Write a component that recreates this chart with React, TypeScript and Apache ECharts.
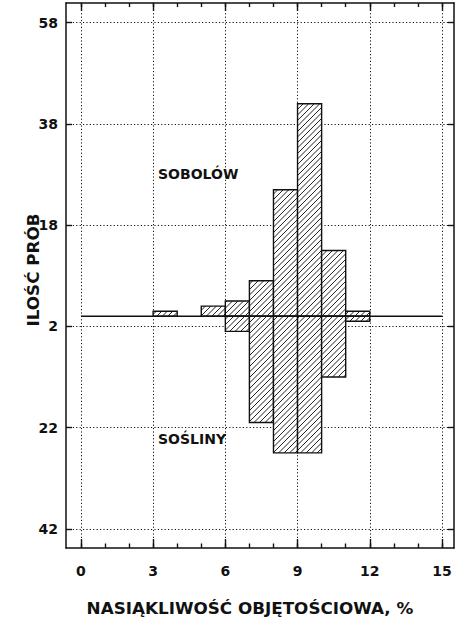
import React, { useEffect, useRef } from "react";
import * as echarts from "echarts";

// Histogram bins: left edge of each 1-unit class and the number of samples in it
const BIN_WIDTH = 1;
const SOBOLOW_BINS = [3, 5, 6, 7, 8, 9, 10, 11];
const SOBOLOW_COUNTS = [1, 2, 3, 7, 25, 42, 13, 1];
const SOSLINY_BINS = [6, 7, 8, 9, 10, 11];
const SOSLINY_COUNTS = [3, 21, 27, 27, 12, 1];

// Axis ticks
const X_MAJOR = [0, 3, 6, 9, 12, 15];
const X_MINOR = [0, 1, 2, 3, 4, 5, 6, 7, 8, 9, 10, 11, 12, 13, 14, 15];
const Y_TICKS = [-42, -22, -2, 18, 38, 58];
const BASELINE_X = [0, 15];

const X_MIN = -0.62;
const X_MAX = 15.5;
const Y_MIN = -45.8;
const Y_MAX = 61.9;

const FONT = '"DejaVu Sans", sans-serif';
const INK = "#111";
const DOTS = [1.2, 2.2];

// Rectangle with "///" hatching, spanning [x0, x1] horizontally and 0..value vertically
function hatchedBar(_params: any, api: any) {
  const x0 = api.value(0);
  const x1 = api.value(1);
  const v = api.value(2);
  const a = api.coord([x0, 0]);
  const b = api.coord([x1, v]);
  const rx = Math.min(a[0], b[0]);
  const rw = Math.abs(b[0] - a[0]);
  const ry = Math.min(a[1], b[1]);
  const rh = Math.abs(b[1] - a[1]);
  const children: any[] = [
    { type: "rect", shape: { x: rx, y: ry, width: rw, height: rh }, style: { fill: "#fff" } },
  ];
  const step = 5.5;
  const cStart = Math.ceil((rx + ry) / step) * step;
  for (let c = cStart; c <= rx + rw + ry + rh; c += step) {
    const xa = Math.max(rx, c - (ry + rh));
    const xb = Math.min(rx + rw, c - ry);
    if (xb - xa > 0.3) {
      children.push({
        type: "line",
        shape: { x1: xa, y1: c - xa, x2: xb, y2: c - xb },
        style: { stroke: "#222", lineWidth: 1 },
      });
    }
  }
  children.push({
    type: "rect",
    shape: { x: rx, y: ry, width: rw, height: rh },
    style: { fill: "none", stroke: INK, lineWidth: 1.4 },
  });
  return { type: "group", children };
}

const hidden = { show: false };

function xAxisDef(position: "top" | "bottom", ticks: number[], len: number, line: boolean, labels: boolean, split: boolean) {
  return {
    type: "value",
    position,
    min: X_MIN,
    max: X_MAX,
    axisLine: { show: line, onZero: false, lineStyle: { color: INK, width: 1.5 } },
    axisTick: { show: true, inside: true, length: len, customValues: ticks, lineStyle: { color: INK, width: 1.4 } },
    axisLabel: labels
      ? { show: true, customValues: X_MAJOR, margin: 16, color: INK, fontFamily: FONT, fontWeight: "bold", fontSize: 14 }
      : hidden,
    splitLine: split ? { show: true, lineStyle: { color: INK, width: 1, type: DOTS } } : hidden,
  };
}

function yAxisDef(position: "left" | "right", labels: boolean, split: boolean) {
  return {
    type: "value",
    position,
    min: Y_MIN,
    max: Y_MAX,
    axisLine: { show: true, onZero: false, lineStyle: { color: INK, width: 1.5 } },
    axisTick: { show: true, inside: true, length: 6, customValues: Y_TICKS, lineStyle: { color: INK, width: 1.4 } },
    axisLabel: labels
      ? {
          show: true,
          customValues: Y_TICKS,
          margin: 8,
          color: INK,
          fontFamily: FONT,
          fontWeight: "bold",
          fontSize: 14,
          formatter: (v: number) => String(Math.abs(v)),
        }
      : hidden,
    splitLine: split ? { show: true, lineStyle: { color: INK, width: 1, type: DOTS } } : hidden,
  };
}

export default function App() {
  const ref = useRef<HTMLDivElement>(null);

  useEffect(() => {
    if (!ref.current) return;
    const chart = echarts.init(ref.current, null, { renderer: "svg" });

    const upper = SOBOLOW_BINS.map((s, i) => [s, s + BIN_WIDTH, SOBOLOW_COUNTS[i]]);
    const lower = SOSLINY_BINS.map((s, i) => [s, s + BIN_WIDTH, -SOSLINY_COUNTS[i]]);

    const titleStyle = { fill: INK, fontFamily: FONT, fontWeight: "bold", fontSize: 15 };

    chart.setOption({
      animation: false,
      backgroundColor: "#fff",
      grid: { left: 66, top: 3, right: 6, bottom: 86, containLabel: false },
      xAxis: [
        xAxisDef("bottom", X_MAJOR, 9, true, true, true),
        xAxisDef("bottom", X_MINOR, 4.5, false, false, false),
        xAxisDef("top", X_MAJOR, 8, true, false, false),
        xAxisDef("top", X_MINOR, 4, false, false, false),
      ],
      yAxis: [yAxisDef("left", true, true), yAxisDef("right", false, false)],
      series: [
        {
          name: "SOBOLÓW",
          type: "custom",
          xAxisIndex: 0,
          yAxisIndex: 0,
          renderItem: hatchedBar,
          encode: { x: [0, 1], y: 2 },
          data: upper,
          z: 3,
        },
        {
          name: "SOŚLINY",
          type: "custom",
          xAxisIndex: 0,
          yAxisIndex: 0,
          renderItem: hatchedBar,
          encode: { x: [0, 1], y: 2 },
          data: lower,
          z: 3,
        },
        {
          type: "line",
          xAxisIndex: 0,
          yAxisIndex: 0,
          data: BASELINE_X.map((x) => [x, 0]),
          symbol: "none",
          lineStyle: { color: INK, width: 1.4 },
          z: 5,
        },
      ],
      graphic: [
        {
          type: "text",
          left: 158,
          top: 167,
          style: { ...titleStyle, fontSize: 14, text: "SOBOLÓW" },
        },
        {
          type: "text",
          left: 158,
          top: 432,
          style: { ...titleStyle, fontSize: 14, text: "SOŚLINY" },
        },
        {
          type: "text",
          x: 250,
          y: 609,
          scaleX: 1.12,
          style: { ...titleStyle, text: "NASIĄKLIWOŚĆ OBJĘTOŚCIOWA, %", textAlign: "center", textVerticalAlign: "middle" },
        },
        {
          type: "text",
          x: 34,
          y: 270,
          rotation: Math.PI / 2,
          scaleX: 1.12,
          style: { ...titleStyle, text: "ILOŚĆ PRÓB", textAlign: "center", textVerticalAlign: "middle" },
        },
      ],
    });

    return () => chart.dispose();
  }, []);

  return <div ref={ref} style={{ position: "fixed", left: 0, top: 0, width: 460, height: 634 }} />;
}
